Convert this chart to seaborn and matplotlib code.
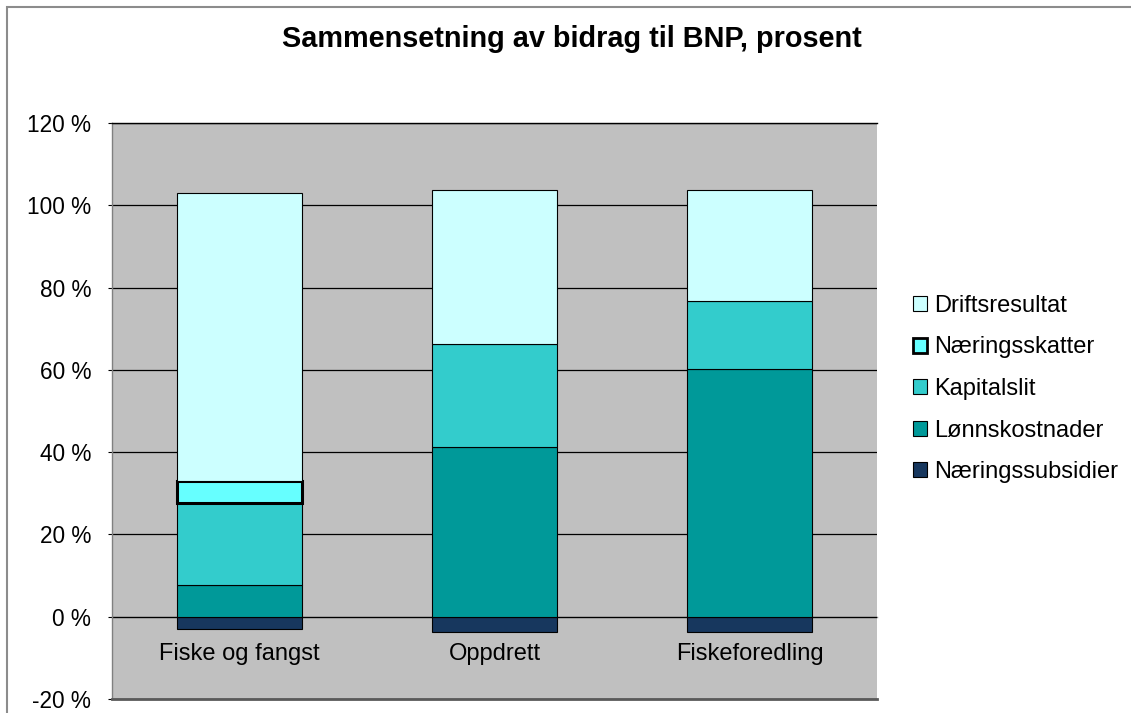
import matplotlib
matplotlib.use("Agg")
import matplotlib.pyplot as plt
import matplotlib.patches as mpatches
import seaborn as sns
import numpy as np

categories = ["Fiske og fangst", "Oppdrett", "Fiskeforedling"]
naeringssubsidier = [-3.0, -3.7, -3.8]
lonnskostnader = [7.7, 41.2, 60.2]
kapitalslit = [19.9, 25.1, 16.6]
naeringsskatter = [5.4, 0.0, 0.0]
driftsresultat = [70.0, 37.4, 27.0]
yticks = [-20, 0, 20, 40, 60, 80, 100, 120]
title = "Sammensetning av bidrag til BNP, prosent"

sns.set_theme(style="white")
plt.rcParams['font.family'] = ['Liberation Sans', 'DejaVu Sans']
plt.rcParams['text.color'] = 'black'

fig = plt.figure(figsize=(11.31, 7.13), dpi=100)
ax = fig.add_axes([112/1131, 1-699/713, (877-112)/1131, (699-123)/713])
ax.set_facecolor("#C0C0C0")

width = 0.49

sns.barplot(x=categories, y=naeringssubsidier, color="#17375E", width=width,
            edgecolor="black", linewidth=0.8, ax=ax, saturation=1, legend=False)
bottom = np.zeros(len(categories))
series = [
    ("Lønnskostnader", lonnskostnader, "#009999", 0.8),
    ("Kapitalslit", kapitalslit, "#33CCCC", 0.8),
    ("Næringsskatter", naeringsskatter, "#66FFFF", 2.2),
    ("Driftsresultat", driftsresultat, "#CCFFFF", 0.8),
]
for name, vals, col, lw in series:
    vals = np.array(vals, dtype=float)
    sns.barplot(x=categories, y=vals, bottom=bottom, color=col, width=width,
                edgecolor="black", linewidth=lw, ax=ax, saturation=1, legend=False)
    bottom = bottom + vals

for cont in ax.containers:
    for p in cont.patches:
        if abs(p.get_height()) < 1e-9:
            p.set_visible(False)

ymin, ymax = -20, 120
ax.set_ylim(ymin, ymax)
ax.set_xlim(-0.5, 2.5)
ax.set_yticks(yticks)
ax.set_yticklabels([f"{t} %" for t in yticks], fontsize=16.3, color="black")
ax.tick_params(axis="y", length=3, width=0.8, color="black", pad=12, left=True)
ax.yaxis.grid(True, color="black", linewidth=0.9)
ax.xaxis.grid(False)
ax.set_axisbelow(True)
ax.set_xticks([])
ax.set_xlabel("")
ax.set_ylabel("")

ax.spines["top"].set_color("black"); ax.spines["top"].set_linewidth(1.0)
ax.spines["right"].set_visible(False)
ax.spines["left"].set_color("#808080"); ax.spines["left"].set_linewidth(1.0)
ax.spines["bottom"].set_color("#5A5A5A"); ax.spines["bottom"].set_linewidth(2.0)

sec = ax.secondary_xaxis((0 - ymin) / (ymax - ymin))
sec.set_xticks(range(len(categories)))
sec.set_xticklabels(categories, fontsize=17, color="black")
sec.tick_params(length=0, pad=19)
sec.spines["bottom"].set_color("#808080")
sec.spines["bottom"].set_linewidth(1.0)

fig.text(572/1131, 1 - 25/713, title, ha="center", va="top", fontsize=20.8,
         fontweight="bold", color="black")

legend_names = ["Driftsresultat", "Næringsskatter", "Kapitalslit", "Lønnskostnader", "Næringssubsidier"]
legend_colors = ["#CCFFFF", "#66FFFF", "#33CCCC", "#009999", "#17375E"]
leg_handles = [mpatches.Patch(facecolor=c, edgecolor="black",
                              linewidth=2.0 if n == "Næringsskatter" else 0.8)
               for n, c in zip(legend_names, legend_colors)]
leg = fig.legend(leg_handles, legend_names, loc="center left",
                 bbox_to_anchor=(913/1131, 1 - 389/713), frameon=False,
                 fontsize=17, handlelength=0.6, handleheight=0.6,
                 handletextpad=0.3, labelspacing=0.83, borderpad=0, borderaxespad=0)

border = mpatches.Rectangle((7/1131, -0.5), 2, 0.5 + 1 - 7/713, transform=fig.transFigure,
                            fill=False, edgecolor="#8C8C8C", linewidth=1.5, clip_on=False)
fig.patches.append(border)

fig.savefig("out.png", dpi=100)
